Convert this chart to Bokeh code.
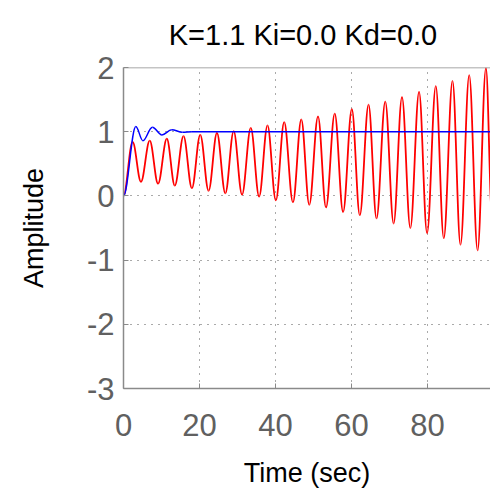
from bokeh.plotting import figure
from bokeh.models import Range1d, FixedTicker, Span
from bokeh.embed import file_html
from bokeh.resources import INLINE

# Closed-loop responses: successive turning points
red_t = [0, 2.4, 4.6, 6.9, 9.1, 11.4, 13.5, 15.8, 18.0, 20.2, 22.4, 24.6, 26.8, 29.0,
         31.2, 33.5, 35.7, 37.9, 40.1, 42.3, 44.6, 46.8, 48.9, 51.2, 53.3, 55.6, 57.8,
         60.1, 62.2, 64.5, 66.6, 68.9, 71.1, 73.3, 75.5, 77.8, 79.9, 82.2, 84.3, 86.6,
         88.7, 91.0, 93.2, 95.4, 97.0]
red_v = [0, 0.84, 0.22, 0.86, 0.19, 0.89, 0.16, 0.93, 0.12, 0.95, 0.08, 0.98, 0.04, 1.01,
         0.02, 1.06, -0.01, 1.10, -0.07, 1.15, -0.10, 1.19, -0.14, 1.24, -0.18, 1.28, -0.25,
         1.35, -0.30, 1.42, -0.35, 1.47, -0.43, 1.54, -0.50, 1.62, -0.58, 1.71, -0.66, 1.79,
         -0.76, 1.88, -0.85, 1.99, -0.30]

blue_t = [0, 3.25, 5.1, 7.6, 10.1, 12.7, 15.5, 18.0, 97.0]
blue_v = [0, 1.08, 0.86, 1.07, 0.95, 1.03, 0.99, 1.0, 1.0]

x_ticks = [0, 20, 40, 60, 80]
y_ticks = [-3, -2, -1, 0, 1, 2]
title_text = "K=1.1  Ki=0.0 Kd=0.0"

FONT = "Liberation Sans"
GRAY = "#606060"
AXIS_GRAY = "#8a8a8a"

p = figure(frame_width=367, frame_height=321, output_backend="svg", toolbar_location=None,
           x_range=Range1d(0, 96.6), y_range=Range1d(-3, 2),
           min_border_left=123, min_border_right=0, min_border_top=67,
           min_border_bottom=101, title=title_text)

p.title.align = "center"
p.title.vertical_align = "top"
p.title.text_font = FONT
p.title.text_font_size = "29px"
p.title.text_font_style = "normal"
p.title.text_color = "black"
p.title.standoff = 30

p.outline_line_color = None
p.background_fill_color = "white"
p.border_fill_color = "white"

p.xaxis.ticker = FixedTicker(ticks=x_ticks)
p.yaxis.ticker = FixedTicker(ticks=y_ticks)
p.yaxis.major_label_overrides = {t: str(t) for t in y_ticks}
p.xaxis.minor_tick_line_color = None
p.yaxis.minor_tick_line_color = None
for ax in (p.xaxis, p.yaxis):
    ax.axis_line_color = AXIS_GRAY
    ax.axis_line_width = 1.5
    ax.major_tick_line_color = AXIS_GRAY
    ax.major_tick_in = 5
    ax.major_tick_out = 0
    ax.major_label_text_font = FONT
    ax.major_label_text_font_size = "31px"
    ax.major_label_text_color = GRAY
    ax.axis_label_text_font = FONT
    ax.axis_label_text_font_size = "27px"
    ax.axis_label_text_font_style = "normal"
    ax.axis_label_text_color = "black"

p.xaxis.axis_label = "Time (sec)"
p.yaxis.axis_label = "Amplitude"
p.xaxis.major_label_standoff = 25
p.yaxis.major_label_standoff = 9
p.xaxis.axis_label_standoff = 19
p.yaxis.axis_label_standoff = 35

for g in (p.xgrid, p.ygrid):
    g.grid_line_color = "#555555"
    g.grid_line_dash = "1 6"
    g.grid_line_width = 1

p.add_layout(Span(location=2, dimension="width", line_color=AXIS_GRAY, line_width=1.5))


def smooth(ts, vs):
    # cubic segments between consecutive turning points, flat tangents at each point
    x0, y0, x1, y1, cx0, cy0, cx1, cy1 = [], [], [], [], [], [], [], []
    for i in range(len(ts) - 1):
        dt = ts[i + 1] - ts[i]
        x0.append(ts[i]); y0.append(vs[i])
        x1.append(ts[i + 1]); y1.append(vs[i + 1])
        cx0.append(ts[i] + 0.36 * dt); cy0.append(vs[i])
        cx1.append(ts[i + 1] - 0.36 * dt); cy1.append(vs[i + 1])
    return dict(x0=x0, y0=y0, x1=x1, y1=y1, cx0=cx0, cy0=cy0, cx1=cx1, cy1=cy1)


p.bezier(**smooth(red_t, red_v), line_color="#ff0000", line_width=1.8)
p.bezier(**smooth(blue_t, blue_v), line_color="#0000ff", line_width=1.5)

open("out.html", "w").write(file_html(p, INLINE))
